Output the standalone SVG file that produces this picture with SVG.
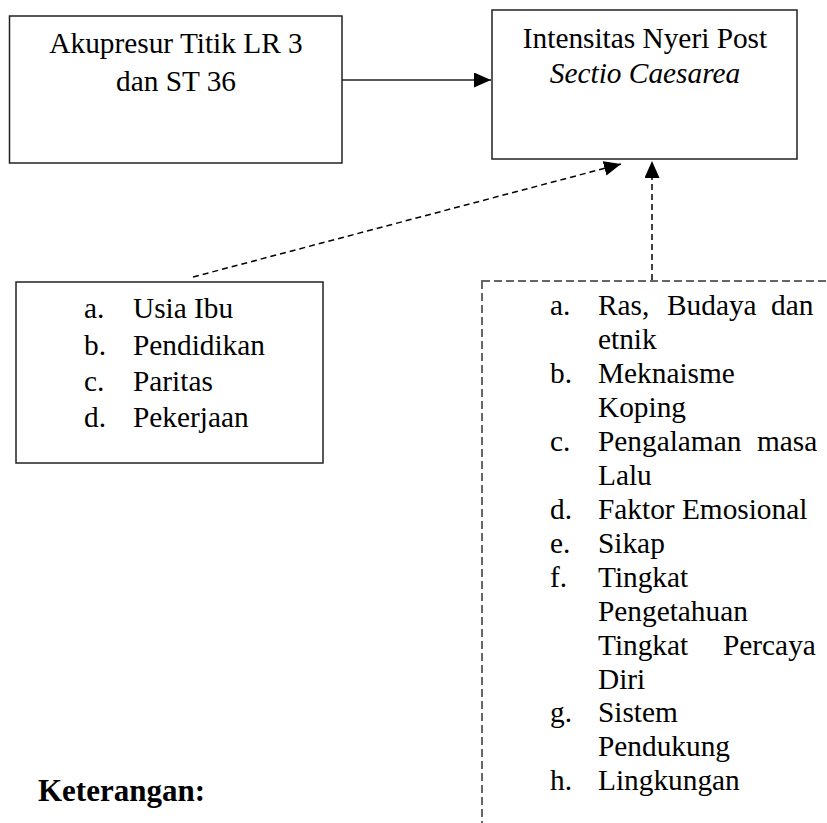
<svg xmlns="http://www.w3.org/2000/svg" width="827" height="823" viewBox="0 0 827 823">
<style>
.box{fill:#fff;stroke:#222;stroke-width:1.5}
.dbox{fill:#fff;stroke:#666;stroke-width:2;stroke-dasharray:8,4}
.dl{fill:none;stroke:#000;stroke-width:1.5;stroke-dasharray:6,4}
.sl{fill:none;stroke:#222;stroke-width:1.5}
</style>
<defs>
<marker id="ah" viewBox="0 0 17 15" refX="17" refY="7.5" markerWidth="17" markerHeight="15" markerUnits="userSpaceOnUse" orient="auto">
<path d="M0,0 L17,7.5 L0,15 Z" fill="#000"/>
</marker>
</defs>
<rect width="827" height="823" fill="#fff"/>
<g font-family="Liberation Serif, Times New Roman, serif" font-size="29.33" fill="#000">
<g id="node-akupresur">
<rect class="box" x="9.5" y="16" width="332.5" height="147"/>
<text x="176" y="53" text-anchor="middle">Akupresur Titik LR 3</text>
<text x="176" y="91" text-anchor="middle">dan ST 36</text>
</g>
<g id="node-intensitas">
<rect class="box" x="492" y="10" width="305" height="149"/>
<text x="645" y="48" text-anchor="middle">Intensitas Nyeri Post</text>
<text x="645" y="83" text-anchor="middle" font-style="italic">Sectio Caesarea</text>
</g>
<g id="node-faktor1">
<rect class="box" x="16" y="282" width="307" height="181"/>
<text x="84" y="318">a.</text><text x="133" y="318">Usia Ibu</text>
<text x="84" y="354.5">b.</text><text x="133" y="354.5">Pendidikan</text>
<text x="84" y="391">c.</text><text x="133" y="391">Paritas</text>
<text x="84" y="427">d.</text><text x="133" y="427">Pekerjaan</text>
</g>
<g id="node-faktor2">
<rect class="dbox" x="482" y="281" width="370" height="570"/>
<text x="550" y="315">a.</text><text x="598" y="315">Ras,</text><text x="667" y="315">Budaya</text><text x="771" y="315">dan</text>
<text x="598" y="349">etnik</text>
<text x="550" y="383">b.</text><text x="598" y="383">Meknaisme</text>
<text x="598" y="417">Koping</text>
<text x="550" y="451">c.</text><text x="598" y="451">Pengalaman</text><text x="757" y="451">masa</text>
<text x="598" y="485">Lalu</text>
<text x="550" y="519">d.</text><text x="598" y="519">Faktor Emosional</text>
<text x="550" y="553">e.</text><text x="598" y="553">Sikap</text>
<text x="550" y="587">f.</text><text x="598" y="587">Tingkat</text>
<text x="598" y="621">Pengetahuan</text>
<text x="598" y="655">Tingkat</text><text x="723" y="655">Percaya</text>
<text x="598" y="689">Diri</text>
<text x="550" y="722">g.</text><text x="598" y="722">Sistem</text>
<text x="598" y="756">Pendukung</text>
<text x="550" y="790">h.</text><text x="598" y="790">Lingkungan</text>
</g>
<text x="38" y="801" font-weight="bold" font-size="31">Keterangan:</text>
</g>
<g id="connectors">
<line class="sl" x1="342" y1="80" x2="491" y2="80" marker-end="url(#ah)"/>
<line class="dl" x1="193" y1="277" x2="621" y2="164" marker-end="url(#ah)"/>
<line class="dl" x1="652" y1="280" x2="652" y2="161" marker-end="url(#ah)"/>
</g>
</svg>
